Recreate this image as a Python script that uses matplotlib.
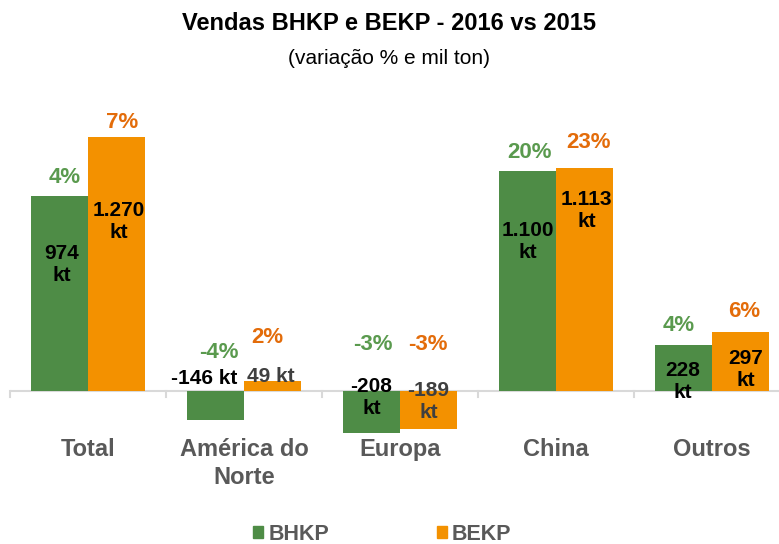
import matplotlib
matplotlib.use("Agg")
import matplotlib.pyplot as plt
import numpy as np
from matplotlib.patches import Patch

plt.rcParams['font.family'] = ['Liberation Sans', 'DejaVu Sans']

categories = ["Total", "América do\nNorte", "Europa", "China", "Outros"]
bhkp_kt = [974, -146, -208, 1100, 228]
bekp_kt = [1270, 49, -189, 1113, 297]
bhkp_pct = ["4%", "-4%", "-3%", "20%", "4%"]
bekp_pct = ["7%", "2%", "-3%", "23%", "6%"]
bhkp_lbl = ["974\nkt", "-146 kt", "-208\nkt", "1.100\nkt", "228\nkt"]
bekp_lbl = ["1.270\nkt", "49 kt", "-189\nkt", "1.113\nkt", "297\nkt"]

green = "#4E8C46"
orange = "#F39100"
green_txt = "#5A9A4E"
orange_txt = "#E36C0A"

# label offsets in pixels (dx, dy) from bar end
bhkp_pct_off = [(5, 19), (3, 38), (1, 46), (2, 19), (-5, 20)]
bekp_pct_off = [(6, 15), (-5, 44), (-1, 46), (4, 26), (4, 20)]
bhkp_lbl_off = [(2, -68), (-11, 13), (0, -6), (0, -70), (-1, -36)]
bekp_lbl_off = [(2, -85), (-2, 5), (0, -10), (2, -42), (5, -38)]
bekp_lbl_col = ["black", "#3F3F3F", "#3F3F3F", "black", "black"]

fig = plt.figure(figsize=(7.79, 5.44), dpi=100)
ax = fig.add_axes([10 / 779, 1 - 440 / 544, 780 / 779, 340 / 544])

x = np.arange(len(categories))
w = 0.365
ax.bar(x - w / 2, bhkp_kt, w, color=green)
ax.bar(x + w / 2, bekp_kt, w, color=orange)

ax.set_xlim(-0.5, 4.5)
ax.set_ylim(-245, 1455)
for s in ax.spines.values():
    s.set_visible(False)
ax.set_yticks([])
ax.set_xticks([])
ax.axhline(0, color="#D9D9D9", lw=1.5, zorder=0)
for b in np.arange(-0.5, 5, 1):
    ax.plot([b, b], [0, -30], color="#D9D9D9", lw=1.5, zorder=0, clip_on=False)

for i in range(len(categories)):
    for xc, v, pct, lbl, poff, loff, pc, lc in [
        (x[i] - w / 2, bhkp_kt[i], bhkp_pct[i], bhkp_lbl[i], bhkp_pct_off[i], bhkp_lbl_off[i], green_txt, "black"),
        (x[i] + w / 2, bekp_kt[i], bekp_pct[i], bekp_lbl[i], bekp_pct_off[i], bekp_lbl_off[i], orange_txt, bekp_lbl_col[i]),
    ]:
        ref = max(v, 0)
        ax.annotate(pct, (xc, ref), xytext=poff, textcoords="offset pixels",
                    ha="center", va="center", fontsize=16, fontweight="bold", color=pc)
        ax.annotate(lbl, (xc, ref), xytext=loff, textcoords="offset pixels",
                    ha="center", va="center", fontsize=15, fontweight="bold", color=lc,
                    linespacing=1.2)
    ax.text(x[i], -237, categories[i], ha="center", va="top",
            fontsize=17, fontweight="bold", color="#595959", linespacing=1.25)

fig.text(0.5, 1 - 24 / 544, "Vendas BHKP e BEKP - 2016 vs 2015", ha="center", va="center",
         fontsize=17, fontweight="bold")
fig.text(0.5, 1 - 58 / 544, "(variação % e mil ton)", ha="center", va="center", fontsize=15)

handles = [Patch(color=green, label="BHKP"), Patch(color=orange, label="BEKP")]
leg = fig.legend(handles=handles, loc="center", bbox_to_anchor=(0.491, 1 - 534 / 544), ncol=2,
                 frameon=False, handlelength=0.45, handleheight=0.45, handletextpad=0.25,
                 columnspacing=5.0, prop={"weight": "bold", "size": 15.5}, borderpad=0)
for t in leg.get_texts():
    t.set_color("#595959")

fig.savefig("out.png", dpi=100)
